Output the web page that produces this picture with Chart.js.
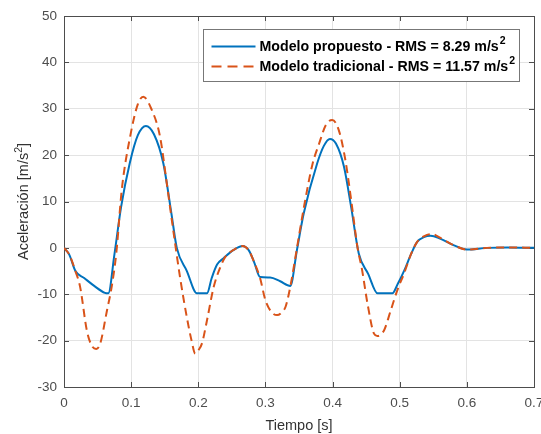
<!DOCTYPE html>
<html>
<head>
<meta charset="utf-8">
<script src="https://cdn.jsdelivr.net/npm/chart.js@4.4.0/dist/chart.umd.min.js"></script>
<style>
    html, body { margin: 0; padding: 0; background: #fff; }
    #wrap { width: 541px; height: 434px; }
</style>
</head>
<body>
<div id="wrap"><canvas id="myChart" width="541" height="434"></canvas></div>
<script>
// Modelo propuesto (línia blava)
const timeProp = [0, 0.008, 0.017, 0.03, 0.045, 0.061, 0.066, 0.075, 0.085, 0.098, 0.11, 0.122, 0.134, 0.148, 0.16, 0.168,
    0.183, 0.198, 0.213, 0.22, 0.228, 0.238, 0.252, 0.266, 0.275, 0.283, 0.292, 0.307, 0.322, 0.337, 0.347, 0.357, 0.377,
    0.387, 0.396, 0.405, 0.417, 0.428, 0.439, 0.453, 0.467, 0.489, 0.497, 0.507, 0.517, 0.526, 0.536, 0.546, 0.56, 0.58,
    0.6, 0.63, 0.66, 0.7];
const accProp = [0, -1.5, -5, -6.5, -8.2, -9.7, -9.8, -1.5, 8.8, 18.3, 24.3, 26.3, 24.5, 18.2, 7.4, 0,
    -5, -9.8, -9.8, -6.5, -3.6, -2.2, -0.5, 0.4, -0.5, -3, -6.3, -6.4, -7.2, -8.2, -0.4, 7.4, 18.2,
    22, 23.5, 22.5, 17.5, 8.5, -1.2, -5.6, -9.8, -9.8, -7.8, -4.8, -1.3, 1.3, 2.3, 2.6, 2.0, 0.6,
    -0.35, 0, 0.1, 0];

// Modelo tradicional (línia discontínua)
const timeTrad = [0, 0.008, 0.017, 0.024, 0.034, 0.041, 0.048, 0.054, 0.064, 0.071, 0.078, 0.086, 0.0985, 0.11, 0.118,
    0.13, 0.143, 0.153, 0.163, 0.173, 0.183, 0.19, 0.1955, 0.2005, 0.2055, 0.213, 0.223, 0.233, 0.24, 0.252, 0.266,
    0.275, 0.283, 0.292, 0.3, 0.31, 0.3175, 0.325, 0.33, 0.337, 0.347, 0.357, 0.37, 0.38, 0.39, 0.3995, 0.409, 0.419,
    0.428, 0.437, 0.444, 0.452, 0.4617, 0.4667, 0.4766, 0.4866, 0.4965, 0.5065, 0.517, 0.526, 0.536, 0.548, 0.56,
    0.58, 0.6, 0.63, 0.66, 0.7];
const accTrad = [0, -1.5, -5, -8.4, -17.8, -21, -21.8, -20.6, -13.5, -8.4, -1, 12.5, 24, 31, 32.6,
    30, 24, 14, 3.5, -6.5, -15, -20, -22.8, -22, -20.6, -15.6, -8.4, -4.1, -2, -0.5, 0.4,
    -0.5, -3, -6.5, -11.3, -14, -14.5, -13.8, -12.7, -8.4, 0, 8.5, 18, 22.5, 26.5, 27.6, 25.5, 19,
    10, 0.2, -4.8, -12, -18.5, -19, -17.8, -13.5, -9.1, -5.5, -1.3, 1.3, 2.5, 3.0, 2.2,
    0.6, -0.35, 0, 0.1, 0];

const xTicks = [0, 0.1, 0.2, 0.3, 0.4, 0.5, 0.6, 0.7];
const yTicks = [-30, -20, -10, 0, 10, 20, 30, 40, 50];

const labelProp = 'Modelo propuesto - RMS = 8.29 m/s';
const labelTrad = 'Modelo tradicional - RMS = 11.57 m/s';
const xTitle = 'Tiempo [s]';
const yTitle = 'Aceleración [m/s';

const BLUE = '#0072BD';
const ORANGE = '#D95319';
const AXIS = '#4d4d4d';
const FONT = "'Liberation Sans', Arial, sans-serif";

const toPoints = (xs, ys) => xs.map((x, i) => ({ x: x, y: ys[i] }));

// caixa, marques interiors i títols dels eixos (estil MATLAB)
const boxPlugin = {
    id: 'box',
    beforeDatasetsDraw(chart) {
        const { ctx, chartArea: a, scales } = chart;
        ctx.save();
        ctx.strokeStyle = AXIS;
        ctx.lineWidth = 1;
        ctx.beginPath();
        xTicks.forEach((v) => {
            const px = Math.round(scales.x.getPixelForValue(v)) + 0.5;
            ctx.moveTo(px, a.bottom); ctx.lineTo(px, a.bottom - 5);
            ctx.moveTo(px, a.top); ctx.lineTo(px, a.top + 5);
        });
        yTicks.forEach((v) => {
            const py = Math.round(scales.y.getPixelForValue(v)) + 0.5;
            ctx.moveTo(a.left, py); ctx.lineTo(a.left + 5, py);
            ctx.moveTo(a.right, py); ctx.lineTo(a.right - 5, py);
        });
        ctx.stroke();
        ctx.strokeRect(Math.round(a.left) + 0.5, Math.round(a.top) + 0.5,
            Math.round(a.right - a.left), Math.round(a.bottom - a.top));
        ctx.restore();
    },
    afterDraw(chart) {
        const { ctx, chartArea: a } = chart;
        ctx.save();
        ctx.fillStyle = '#333';
        // títol X
        ctx.font = '14.5px ' + FONT;
        ctx.textAlign = 'center';
        ctx.textBaseline = 'alphabetic';
        ctx.fillText(xTitle, (a.left + a.right) / 2, 430);
        // títol Y amb superíndex
        ctx.translate(28, (a.top + a.bottom) / 2);
        ctx.rotate(-Math.PI / 2);
        const w1 = ctx.measureText(yTitle).width;
        ctx.font = '10.5px ' + FONT;
        const w2 = ctx.measureText('2').width;
        ctx.font = '14.5px ' + FONT;
        const wClose = ctx.measureText(']').width;
        const total = w1 + w2 + wClose;
        const x0 = -total / 2;
        ctx.textAlign = 'left';
        ctx.fillText(yTitle, x0, 0);
        ctx.font = '10.5px ' + FONT;
        ctx.fillText('2', x0 + w1, -6.5);
        ctx.font = '14.5px ' + FONT;
        ctx.fillText(']', x0 + w1 + w2, 0);
        ctx.restore();
    }
};

// llegenda amb caixa
const legendPlugin = {
    id: 'boxLegend',
    afterDatasetsDraw(chart) {
        const { ctx, chartArea: a } = chart;
        const bx = a.left + 139.5, by = a.top + 13.5, bw = 316, bh = 52;
        ctx.save();
        ctx.fillStyle = '#fff';
        ctx.fillRect(bx, by, bw, bh);
        ctx.strokeStyle = '#777';
        ctx.lineWidth = 1;
        ctx.strokeRect(bx, by, bw, bh);
        const rows = [
            { text: labelProp, color: BLUE, dash: [], y: by + 17 },
            { text: labelTrad, color: ORANGE, dash: [10, 6], y: by + 37 }
        ];
        rows.forEach((r) => {
            ctx.strokeStyle = r.color;
            ctx.lineWidth = 2;
            ctx.setLineDash(r.dash);
            ctx.beginPath();
            ctx.moveTo(bx + 8, r.y);
            ctx.lineTo(bx + 52, r.y);
            ctx.stroke();
            ctx.setLineDash([]);
            ctx.fillStyle = '#000';
            ctx.font = 'bold 14.2px ' + FONT;
            ctx.textAlign = 'left';
            ctx.textBaseline = 'middle';
            ctx.fillText(r.text, bx + 56, r.y + 1);
            const w = ctx.measureText(r.text).width;
            ctx.font = 'bold 10.5px ' + FONT;
            ctx.fillText('2', bx + 56 + w + 1, r.y - 5);
        });
        ctx.restore();
    }
};

const ctx = document.getElementById('myChart').getContext('2d');
const chart = new Chart(ctx, {
    type: 'line',
    data: {
        datasets: [
            {
                label: labelProp,
                data: toPoints(timeProp, accProp),
                borderColor: BLUE,
                borderWidth: 2,
                pointRadius: 0,
                cubicInterpolationMode: 'monotone',
                fill: false,
                order: 2
            },
            {
                label: labelTrad,
                data: toPoints(timeTrad, accTrad),
                borderColor: ORANGE,
                borderWidth: 2,
                borderDash: [8, 5],
                pointRadius: 0,
                cubicInterpolationMode: 'monotone',
                fill: false,
                order: 1
            }
        ]
    },
    options: {
        responsive: false,
        devicePixelRatio: 1,
        animation: false,
        layout: { padding: { left: 0, top: 16, right: 7, bottom: 0 } },
        plugins: {
            legend: { display: false },
            tooltip: { enabled: false }
        },
        scales: {
            x: {
                type: 'linear',
                min: 0,
                max: 0.7,
                afterFit: (s) => {
                    s.height = 47;
                    s.paddingLeft = 0;
                    s.paddingRight = 0;
                },
                afterBuildTicks: (s) => { s.ticks = xTicks.map((v) => ({ value: v })); },
                grid: { color: '#e3e3e3', drawTicks: false },
                border: { display: false },
                ticks: {
                    padding: 8,
                    color: AXIS,
                    font: { family: FONT, size: 13.5 },
                    maxRotation: 0,
                    callback: (v) => String(v)
                }
            },
            y: {
                min: -30,
                max: 50,
                afterFit: (s) => {
                    s.width = 64;
                    s.paddingTop = 0;
                    s.paddingBottom = 0;
                },
                afterBuildTicks: (s) => { s.ticks = yTicks.map((v) => ({ value: v })); },
                grid: { color: '#e3e3e3', drawTicks: false },
                border: { display: false },
                ticks: {
                    padding: 7,
                    color: AXIS,
                    font: { family: FONT, size: 13.5 },
                    callback: (v) => String(v)
                }
            }
        }
    },
    plugins: [boxPlugin, legendPlugin]
});
</script>
</body>
</html>
